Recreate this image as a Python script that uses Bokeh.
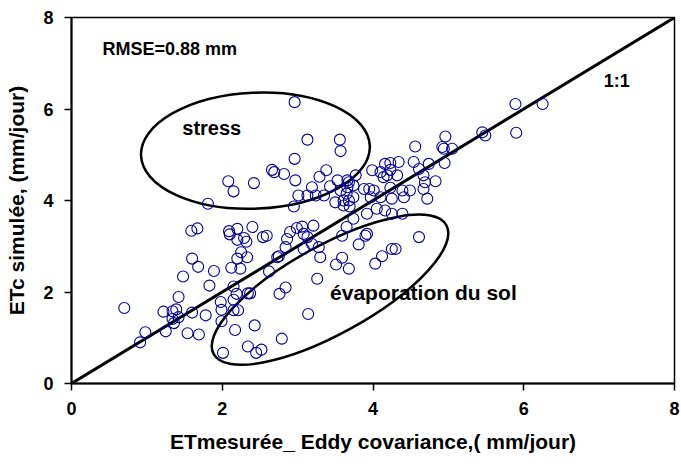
from bokeh.plotting import figure
from bokeh.models import Range1d, FixedTicker, ColumnDataSource
from bokeh.core.properties import value
from bokeh.embed import file_html
from bokeh.resources import INLINE
import math

# ---- data ----
et_mesuree = [
    0.70, 0.91, 0.98, 1.25, 1.22, 1.34, 1.39, 1.34, 1.36, 1.42, 1.60, 1.54, 1.69, 1.78,
    1.42, 1.48, 1.60, 1.68, 1.83, 1.89, 1.59, 1.67, 1.81, 1.98, 1.99, 1.99,
    2.15, 2.15, 2.19, 2.15, 2.21, 2.17, 2.01, 2.12, 2.24, 2.20, 2.25, 2.33, 2.34, 2.37,
    2.43, 2.34, 2.45, 2.52, 2.62, 2.75, 2.76, 2.84, 2.79, 3.14, 3.26, 3.51, 3.59, 3.68,
    3.81, 3.90, 4.03, 4.12, 4.25, 4.30, 4.61, 2.09, 2.10, 2.20, 2.40, 2.20, 2.29, 2.32,
    2.54, 2.59, 2.73, 2.84, 2.86, 2.90, 2.99, 3.08, 3.13, 3.08, 3.19, 3.28, 3.30, 3.21,
    2.96, 3.13, 3.56, 3.57, 2.96, 2.08, 2.15, 2.42, 2.66, 2.69, 2.82, 2.97, 2.95, 3.01,
    3.13, 3.24, 3.35, 3.19, 3.29, 3.38, 3.43, 3.50, 3.53, 3.57, 3.61, 3.68, 3.61, 3.69,
    3.66, 3.74, 3.66, 3.77, 3.74, 3.65, 3.74, 3.65, 3.59, 3.92, 3.92, 4.05, 4.16, 3.88,
    3.97, 4.01, 4.10, 3.99, 4.10, 4.16, 4.19, 3.68,
    4.23, 4.34, 4.54, 4.74, 4.95, 4.56, 4.92, 4.94, 5.05, 4.96, 4.61, 4.67, 4.69, 4.83,
    4.67, 4.49, 4.39, 4.23, 4.41, 4.25, 4.72, 4.25, 4.39, 4.32, 4.23, 4.14,
    5.45, 5.49, 5.89, 6.25, 5.90, 3.95, 3.06,
]
etc_simulee = [
    1.65, 0.90, 1.12, 1.14, 1.57, 1.58, 1.62, 1.41, 1.32, 1.45, 1.55, 1.10, 1.07, 1.49,
    1.89, 2.34, 2.73, 2.55, 2.14, 2.46, 3.34, 3.39, 3.93, 1.78, 1.61, 1.36,
    1.83, 2.12, 1.96, 1.60, 1.60, 1.17, 0.67, 2.53, 2.51, 2.73, 2.87, 2.76, 1.97, 1.97,
    1.27, 0.81, 0.67, 0.74, 2.45, 2.78, 1.96, 2.10, 0.98, 1.52, 2.29, 2.60, 2.75, 2.51,
    3.04, 3.23, 2.62, 2.78, 2.94, 2.94, 3.20, 3.33, 3.26, 3.38, 3.42, 3.14, 3.18, 3.10,
    3.20, 3.23, 2.76, 2.98, 3.16, 3.31, 3.40, 3.27, 3.20, 2.94, 3.05, 2.98, 2.76, 3.45,
    6.15, 5.33, 5.33, 5.08, 4.91, 4.42, 4.20, 4.38, 4.67, 4.62, 4.58, 4.44, 3.87, 4.11,
    4.11, 4.11, 4.11, 4.29, 4.52, 4.66, 4.31, 3.96, 4.44, 4.22, 4.00, 4.00, 3.89, 3.87,
    4.29, 4.33, 4.44, 4.55, 4.07, 4.15, 3.60, 3.42, 3.23, 3.27, 3.71, 3.82, 3.78, 4.25,
    4.07, 4.22, 4.07, 4.66, 4.62, 4.80, 4.55, 4.40,
    4.82, 4.84, 4.84, 4.80, 4.82, 5.18, 5.17, 5.13, 5.13, 5.40, 4.69, 4.55, 4.40, 4.42,
    4.25, 4.22, 4.22, 4.28, 4.07, 4.04, 4.04, 3.71, 3.71, 4.55, 4.67, 4.51,
    5.49, 5.42, 6.11, 6.11, 5.48, 4.25, 3.43,
]
ticks = [0, 2, 4, 6, 8]
line_11_x = [0, 8]
line_11_y = [0, 8]

x_title = "ETmesurée_ Eddy covariance,( mm/jour)"
y_title = "ETc simulée, (mm/jour)"
labels = ["RMSE=0.88 mm", "1:1", "stress", "évaporation du sol"]
label_x = [0.41, 7.06, 1.47, 3.43]
label_y = [7.31, 6.62, 5.58, 2.00]
label_size = ["18px", "18px", "20px", "21px"]

# annotation ellipses: centre in data units, size in screen pixels, angle in degrees
ell_x = [2.44, 3.43]
ell_y = [5.09, 2.05]
ell_w = [229, 266]
ell_h = [116, 88]
ell_angle = [2.5, 29.0]

FONT = "Liberation Sans"

p = figure(width=680, height=456, output_backend="svg", toolbar_location=None,
           x_range=Range1d(0, 8), y_range=Range1d(0, 8),
           min_border_left=71, min_border_right=6, min_border_top=17, min_border_bottom=73)
p.xgrid.visible = False
p.ygrid.visible = False
p.outline_line_color = "black"
p.outline_line_width = 1.5
p.background_fill_color = "white"
p.border_fill_color = "white"

for ax in (p.xaxis[0], p.yaxis[0]):
    ax.ticker = FixedTicker(ticks=ticks)
    ax.axis_line_color = "black"
    ax.axis_line_width = 2
    ax.major_tick_line_color = "black"
    ax.major_tick_line_width = 1.5
    ax.major_tick_out = 7
    ax.major_tick_in = 0
    ax.minor_tick_line_color = None
    ax.major_label_text_font = FONT
    ax.major_label_text_font_style = "bold"
    ax.major_label_text_font_size = "18px"
    ax.major_label_text_color = "black"
    ax.axis_label_text_font = FONT
    ax.axis_label_text_font_style = "bold"
    ax.axis_label_text_font_size = "21px"
    ax.axis_label_text_color = "black"

p.xaxis.axis_label = x_title
p.yaxis.axis_label = y_title
p.xaxis.major_label_standoff = 11
p.yaxis.major_label_standoff = 11
p.xaxis.axis_label_standoff = 12
p.yaxis.axis_label_standoff = 12

# 1:1 line
p.line(line_11_x, line_11_y, line_color="black", line_width=3)

# ellipses
p.ellipse(x=ell_x, y=ell_y, width=ell_w, height=ell_h, width_units="screen",
          height_units="screen", angle=[math.radians(a) for a in ell_angle],
          fill_color=None, line_color="black", line_width=2.5)

# points
src = ColumnDataSource(dict(x=et_mesuree, y=etc_simulee))
p.scatter("x", "y", source=src, marker="circle", size=11, fill_color=None,
          line_color="#000099", line_width=1.1)

# labels
lsrc = ColumnDataSource(dict(x=label_x, y=label_y, t=labels, s=label_size))
p.text("x", "y", text="t", source=lsrc, text_font=value(FONT), text_font_style="bold",
       text_font_size="s", text_align="left", text_baseline="middle", text_color="black")

open("out.html", "w").write(file_html(p, INLINE))
